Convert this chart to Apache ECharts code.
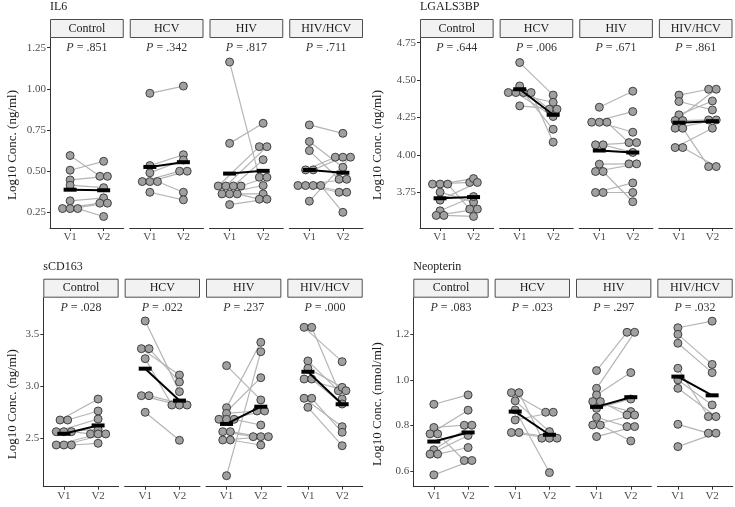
<!DOCTYPE html>
<html><head><meta charset="utf-8">
<script src="https://cdn.jsdelivr.net/npm/echarts@6/dist/echarts.min.js"></script>
<style>html,body{margin:0;padding:0;background:#fff}#c{width:735px;height:507px}</style>
</head><body><div id="c"></div>
<script>
// ---------- categories ----------
const groups = ['Control', 'HCV', 'HIV', 'HIV/HCV'];
const visits = ['V1', 'V2'];

// ---------- IL6 (paired: index i in V1 matches index i in V2) ----------
const il6_ctrl_v1 = [0.595, 0.506, 0.447, 0.415, 0.320, 0.273, 0.273, 0.273];
const il6_ctrl_v2 = [0.469, 0.560, 0.469, 0.400, 0.338, 0.306, 0.306, 0.225];
const il6_hcv_v1 = [0.973, 0.534, 0.490, 0.437, 0.437, 0.437, 0.372];
const il6_hcv_v2 = [1.017, 0.600, 0.568, 0.500, 0.500, 0.372, 0.326];
const il6_hiv_v1 = [1.163, 0.669, 0.410, 0.410, 0.410, 0.410, 0.362, 0.362, 0.362, 0.297];
const il6_hiv_v2 = [0.463, 0.791, 0.649, 0.649, 0.570, 0.463, 0.413, 0.362, 0.330, 0.330];
const il6_hivhcv_v1 = [0.781, 0.680, 0.625, 0.508, 0.508, 0.413, 0.413, 0.413, 0.413, 0.318];
const il6_hivhcv_v2 = [0.730, 0.524, 0.451, 0.585, 0.585, 0.451, 0.372, 0.372, 0.250, 0.585];
const il6_p = ['.851', '.342', '.817', '.711'];
const il6_ticks = [0.25, 0.50, 0.75, 1.00, 1.25];

// ---------- LGALS3BP ----------
const lg_ctrl_v1 = [3.806, 3.806, 3.806, 3.752, 3.699, 3.628, 3.597, 3.597];
const lg_ctrl_v2 = [3.817, 3.843, 3.639, 3.686, 3.817, 3.723, 3.639, 3.590];
const lg_hcv_v1 = [4.617, 4.461, 4.417, 4.417, 4.417, 4.417, 4.328];
const lg_hcv_v2 = [4.400, 4.306, 4.352, 4.257, 4.172, 4.086, 4.306];
const lg_hiv_v1 = [4.319, 4.219, 4.219, 4.219, 4.068, 4.068, 3.939, 3.890, 3.890, 3.750, 3.750];
const lg_hiv_v2 = [4.426, 4.290, 4.152, 4.083, 4.083, 4.017, 3.941, 3.941, 3.688, 3.814, 3.750];
const lg_hivhcv_v1 = [4.400, 4.357, 4.268, 4.230, 4.230, 4.179, 4.179, 4.050, 4.050];
const lg_hivhcv_v2 = [4.439, 4.301, 4.361, 4.439, 4.234, 4.234, 3.923, 4.179, 3.923];
const lg_p = ['.644', '.006', '.671', '.861'];
const lg_ticks = [3.75, 4.00, 4.25, 4.50, 4.75];

// ---------- sCD163 ----------
const cd_ctrl_v1 = [2.676, 2.676, 2.564, 2.564, 2.564, 2.436, 2.436, 2.436];
const cd_ctrl_v2 = [2.878, 2.763, 2.686, 2.587, 2.542, 2.542, 2.542, 2.452];
const cd_hcv_v1 = [3.628, 3.362, 3.362, 3.266, 2.910, 2.910, 2.750];
const cd_hcv_v2 = [2.949, 3.109, 3.042, 2.820, 2.820, 2.820, 2.481];
const cd_hiv_v1 = [3.199, 2.795, 2.740, 2.683, 2.683, 2.683, 2.564, 2.564, 2.484, 2.484, 2.141];
const cd_hiv_v2 = [2.869, 3.423, 2.763, 3.083, 2.763, 2.628, 2.516, 2.516, 2.516, 2.436, 3.333];
const cd_hivhcv_v1 = [3.567, 3.567, 3.244, 3.173, 3.070, 3.070, 2.885, 2.885, 2.798];
const cd_hivhcv_v2 = [3.237, 2.878, 2.958, 2.990, 2.958, 2.830, 2.612, 2.558, 2.429];
const cd_p = ['.028', '.022', '.237', '.000'];
const cd_ticks = [2.5, 3.0, 3.5];

// ---------- Neopterin ----------
const ne_ctrl_v1 = [0.893, 0.791, 0.763, 0.763, 0.693, 0.674, 0.674, 0.583];
const ne_ctrl_v2 = [0.934, 0.801, 0.867, 0.646, 0.801, 0.756, 0.703, 0.646];
const ne_hcv_v1 = [0.944, 0.944, 0.908, 0.868, 0.824, 0.769, 0.769];
const ne_hcv_v2 = [0.858, 0.744, 0.773, 0.593, 0.858, 0.744, 0.744];
const ne_hiv_v1 = [1.041, 0.963, 0.934, 0.905, 0.905, 0.875, 0.836, 0.802, 0.802, 0.751];
const ne_hiv_v2 = [1.209, 1.209, 1.032, 0.861, 0.846, 0.916, 0.795, 0.846, 0.732, 0.795];
const ne_hivhcv_v1 = [1.229, 1.200, 1.161, 1.051, 1.000, 0.963, 0.805, 0.707];
const ne_hivhcv_v2 = [1.258, 1.068, 1.032, 0.839, 0.890, 0.839, 0.766, 0.766];
const ne_p = ['.083', '.023', '.297', '.032'];
const ne_ticks = [0.6, 0.8, 1.0, 1.2];

// ---------- layout ----------
const FONT = '"Liberation Serif", "Times New Roman", serif';
const GAP = 6, STRIP_H = 19;
const PANELS = [
  {title: 'IL6', ylab: 'Log10 Conc. (ng/ml)', left: 50, right: 363, top: 38, h: 190, min: 0.155, max: 1.309, ticks: il6_ticks, dec: 2, p: il6_p, ylabX: 13,
   data: [[il6_ctrl_v1, il6_ctrl_v2], [il6_hcv_v1, il6_hcv_v2], [il6_hiv_v1, il6_hiv_v2], [il6_hivhcv_v1, il6_hivhcv_v2]]},
  {title: 'LGALS3BP', ylab: 'Log10 Conc. (ng/ml)', left: 420, right: 732.5, top: 38, h: 190, min: 3.513, max: 4.781, ticks: lg_ticks, dec: 2, p: lg_p, ylabX: 378,
   data: [[lg_ctrl_v1, lg_ctrl_v2], [lg_hcv_v1, lg_hcv_v2], [lg_hiv_v1, lg_hiv_v2], [lg_hivhcv_v1, lg_hivhcv_v2]]},
  {title: 'sCD163', ylab: 'Log10 Conc. (ng/ml)', left: 43.3, right: 362.7, top: 297.7, h: 189, min: 2.035, max: 3.852, ticks: cd_ticks, dec: 1, p: cd_p, ylabX: 13,
   data: [[cd_ctrl_v1, cd_ctrl_v2], [cd_hcv_v1, cd_hcv_v2], [cd_hiv_v1, cd_hiv_v2], [cd_hivhcv_v1, cd_hivhcv_v2]]},
  {title: 'Neopterin', ylab: 'Log10 Conc. (nmol/ml)', left: 413.3, right: 732.7, top: 297.7, h: 189, min: 0.531, max: 1.361, ticks: ne_ticks, dec: 1, p: ne_p, ylabX: 378,
   data: [[ne_ctrl_v1, ne_ctrl_v2], [ne_hcv_v1, ne_hcv_v2], [ne_hiv_v1, ne_hiv_v2], [ne_hivhcv_v1, ne_hivhcv_v2]]}
];

const DOT_PX = 7.6;
function dodge(vals, center, d) {
  const byVal = {};
  vals.forEach((v, i) => { (byVal[v] = byVal[v] || []).push(i); });
  const xs = new Array(vals.length);
  Object.values(byVal).forEach(idx => {
    const n = idx.length;
    idx.forEach((i, j) => { xs[i] = center + (j - (n - 1) / 2) * d; });
  });
  return xs;
}
const mean = a => a.reduce((s, v) => s + v, 0) / a.length;

const grid = [], xAxis = [], yAxis = [], series = [], graphic = [];
const tickLabel = {color: '#4d4d4d', fontFamily: FONT, fontSize: 11};

PANELS.forEach(P => {
  const w = (P.right - P.left - 3 * GAP) / 4;
  const d = DOT_PX * 2.2 / w;
  graphic.push({type: 'text', x: P.left, y: P.top - STRIP_H - 12, style: {text: P.title, fill: '#1a1a1a', font: '12px ' + FONT, align: 'left', verticalAlign: 'middle'}});
  graphic.push({type: 'text', x: P.ylabX, y: P.top + P.h / 2 + 12, rotation: Math.PI / 2, style: {text: P.ylab, fill: '#1a1a1a', font: '13px ' + FONT, align: 'center', verticalAlign: 'middle'}});
  P.data.forEach((pair, gi) => {
    const k = grid.length;
    const left = P.left + gi * (w + GAP);
    grid.push({left: left, top: P.top, width: w, height: P.h});
    xAxis.push({gridIndex: k, type: 'value', min: 0.4, max: 2.6, splitLine: {show: false},
      axisLine: {show: true, onZero: false, lineStyle: {color: '#333', width: 1}},
      axisTick: {show: true, customValues: [1, 2], length: 3, lineStyle: {color: '#333'}},
      axisLabel: Object.assign({show: true, customValues: [1, 2], formatter: v => visits[Math.round(v) - 1], margin: 4}, tickLabel)});
    yAxis.push({gridIndex: k, type: 'value', min: P.min, max: P.max, show: gi === 0, splitLine: {show: false},
      axisLine: {show: true, onZero: false, lineStyle: {color: '#333', width: 1}},
      axisTick: {show: true, customValues: P.ticks, length: 3, lineStyle: {color: '#333'}},
      axisLabel: Object.assign({show: true, customValues: P.ticks, formatter: v => Number(v).toFixed(P.dec), margin: 4}, tickLabel)});
    // strip
    graphic.push({type: 'rect', shape: {x: left + 0.5, y: P.top - STRIP_H + 0.5, width: w - 1, height: STRIP_H - 1},
      style: {fill: '#f2f2f2', stroke: '#4d4d4d', lineWidth: 1}});
    graphic.push({type: 'text', x: left + w / 2, y: P.top - STRIP_H / 2, style: {text: groups[gi], fill: '#1a1a1a', font: '12px ' + FONT, align: 'center', verticalAlign: 'middle'}});
    graphic.push({type: 'text', x: left + w / 2, y: P.top + 10, style: {text: '{i|P} = ' + P.p[gi], fill: '#333', font: '12px ' + FONT, align: 'center', verticalAlign: 'middle',
      rich: {i: {fontStyle: 'italic', fontFamily: FONT, fontSize: 12, fill: '#333'}}}});

    const [v1, v2] = pair;
    const x1 = dodge(v1, 1, d), x2 = dodge(v2, 2, d);
    v1.forEach((y, i) => {
      series.push({type: 'line', xAxisIndex: k, yAxisIndex: k, data: [[x1[i], y], [x2[i], v2[i]]], symbol: 'none', silent: true, z: 1,
        lineStyle: {color: '#b5b5b5', width: 1.2}});
    });
    series.push({type: 'scatter', xAxisIndex: k, yAxisIndex: k, z: 2, symbolSize: 8, silent: true,
      data: v1.map((y, i) => [x1[i], y]).concat(v2.map((y, i) => [x2[i], y])),
      itemStyle: {color: '#a0a0a0', borderColor: '#333', borderWidth: 0.9, opacity: 1}});
    const m = [[1, mean(v1)], [2, mean(v2)]];
    series.push({type: 'line', xAxisIndex: k, yAxisIndex: k, data: m, symbol: 'none', silent: true, z: 3, lineStyle: {color: '#000', width: 2}});
    series.push({type: 'scatter', xAxisIndex: k, yAxisIndex: k, data: m, symbol: 'rect', symbolSize: [13, 4], silent: true, z: 4, itemStyle: {color: '#000', opacity: 1}});
  });
});

const chart = echarts.init(document.getElementById('c'));
chart.setOption({animation: false, backgroundColor: '#fff', grid, xAxis, yAxis, series, graphic});
</script>
</body></html>
